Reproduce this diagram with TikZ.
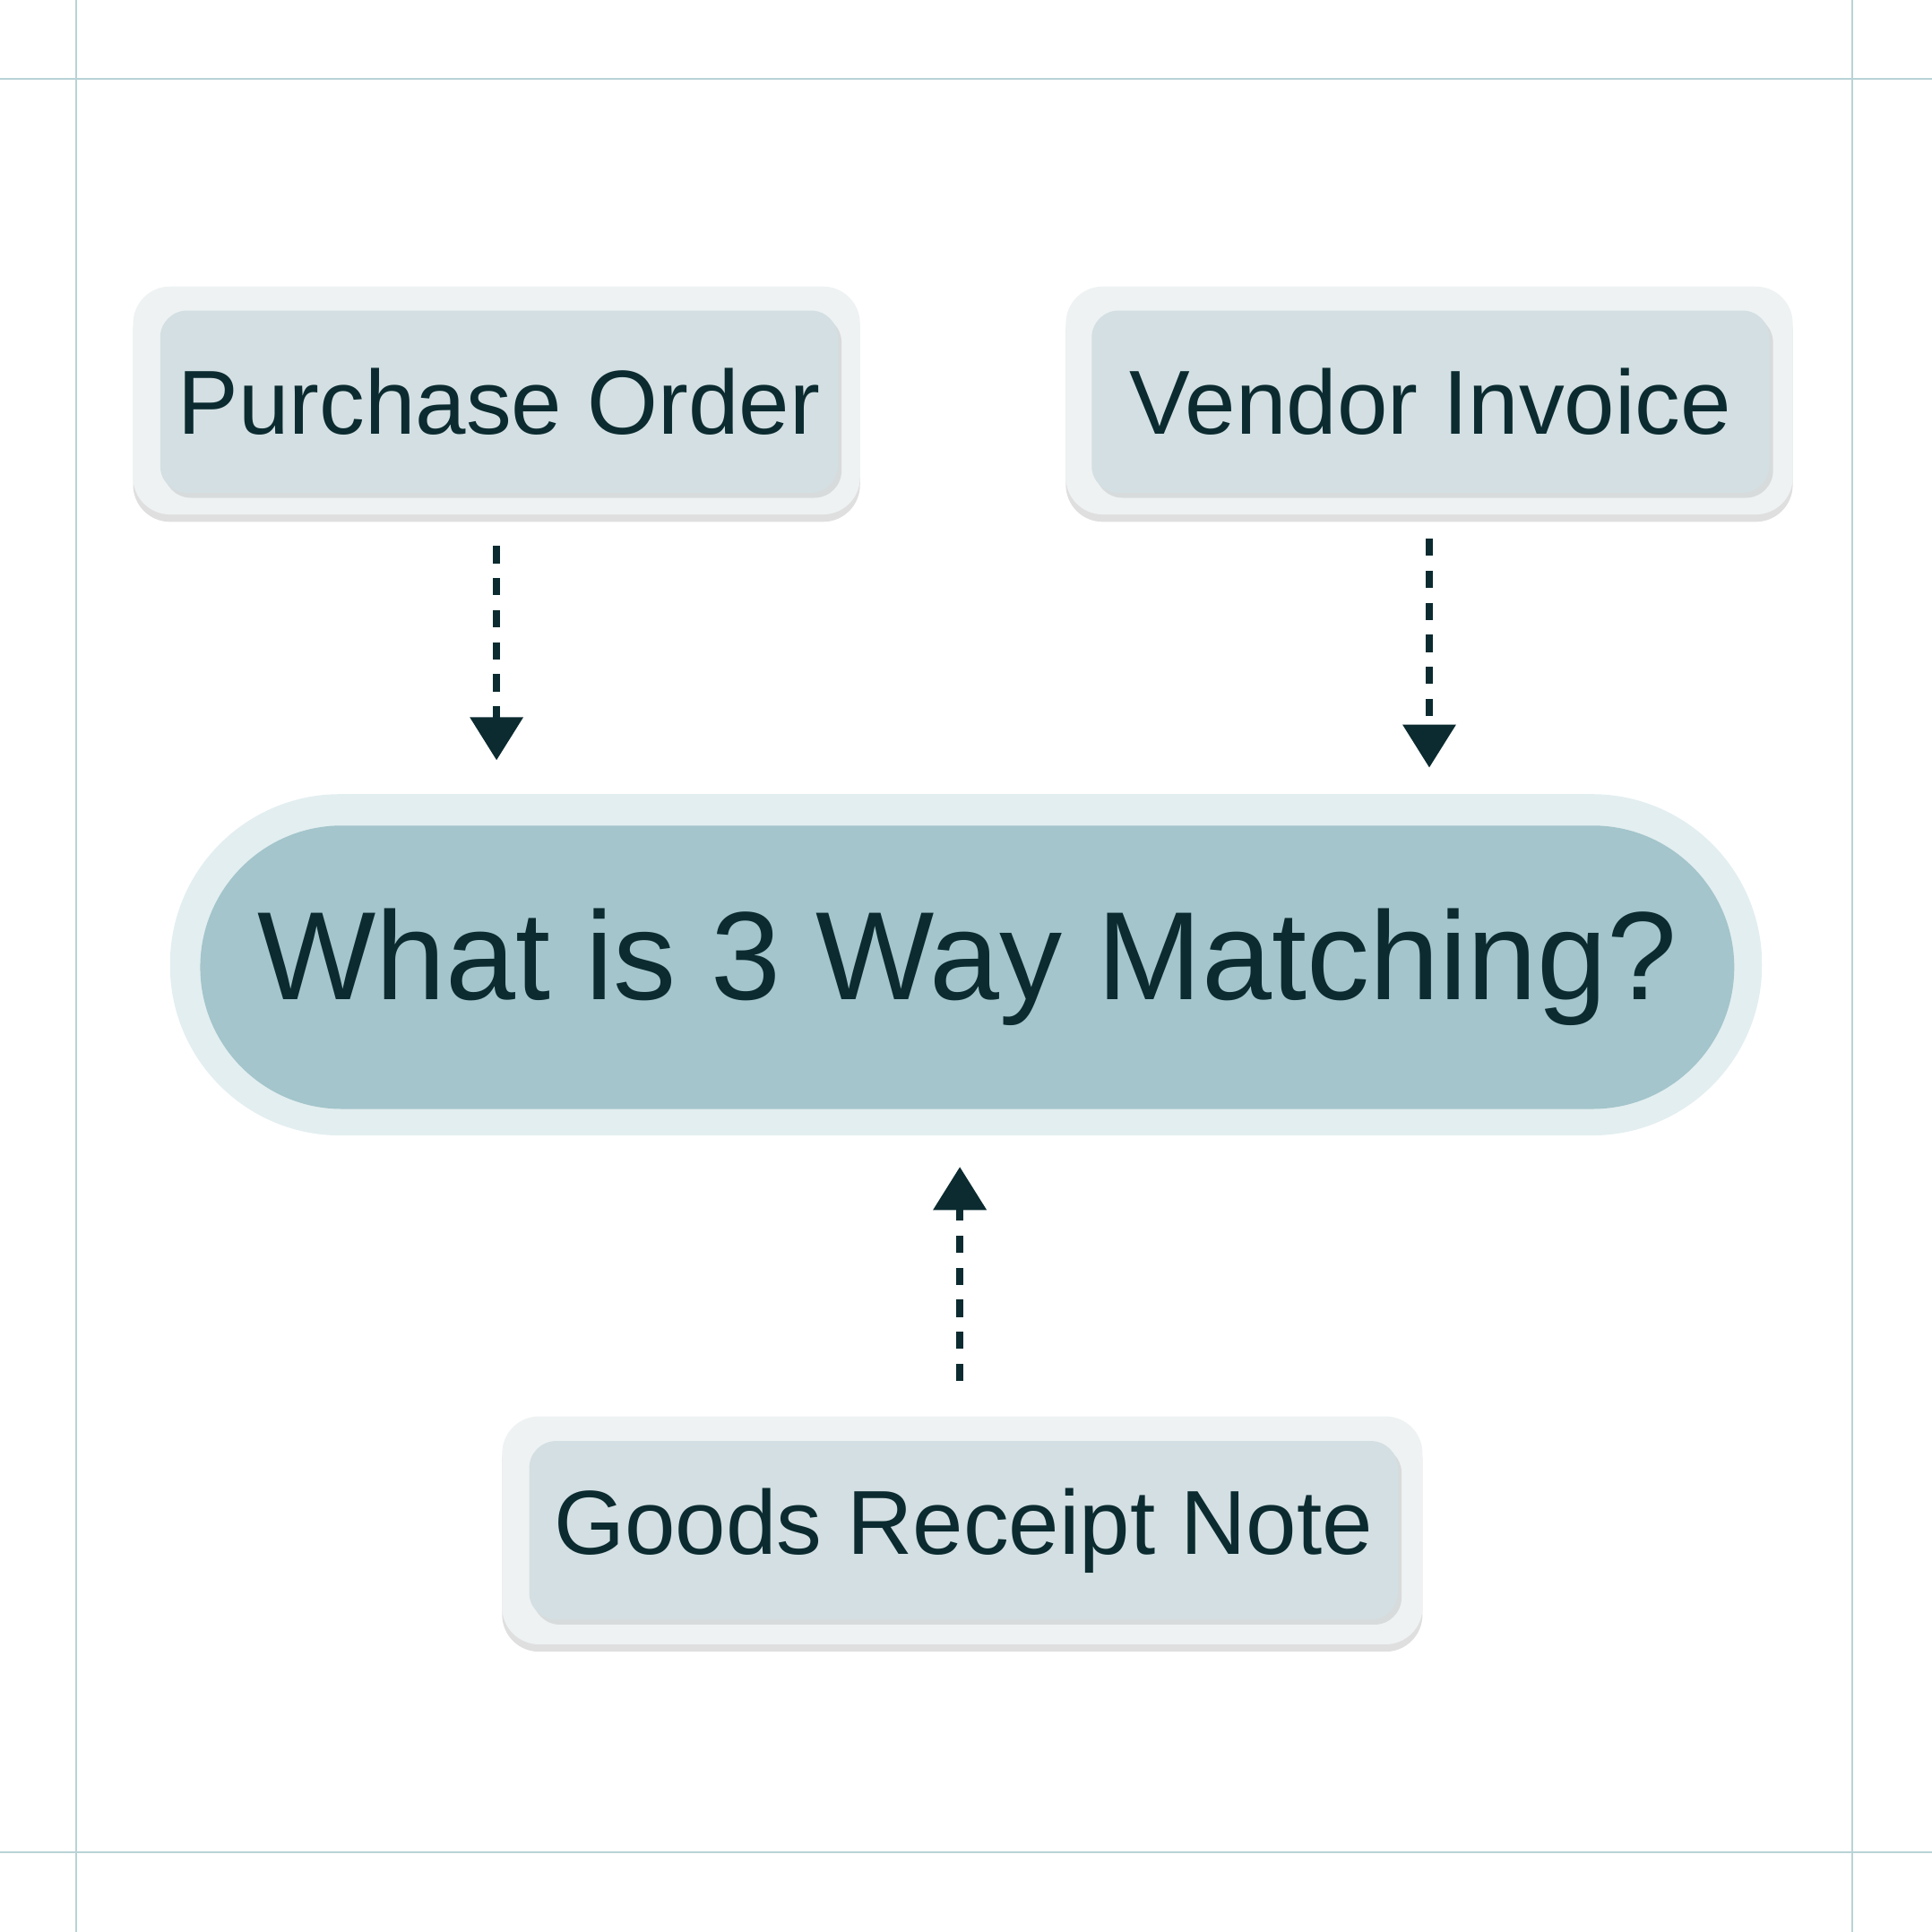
\documentclass[tikz,border=0pt]{standalone}
\usepackage{fontspec}
\setmainfont{Liberation Sans}
\usetikzlibrary{shadows,arrows.meta}
\definecolor{ink}{HTML}{0B2B30}
\definecolor{frame}{HTML}{B9D3D6}
\definecolor{halo}{HTML}{EEF2F3}
\definecolor{card}{HTML}{D3DFE2}
\definecolor{pillhalo}{HTML}{E3EEF0}
\definecolor{pill}{HTML}{A3C5CB}
\tikzset{
  outer/.style={fill=halo, rounded corners=3mm, minimum width=59mm, minimum height=18.5mm,
    drop shadow={opacity=0.25, shadow xshift=0mm, shadow yshift=-0.6mm}},
  inner/.style={fill=card, rounded corners=2.2mm, minimum width=55mm, minimum height=14.8mm,
    text=ink, font=\fontsize{21}{24}\selectfont,
    drop shadow={opacity=0.2, shadow xshift=0.3mm, shadow yshift=-0.4mm}},
  flow/.style={ink, line width=0.6mm, dash pattern=on 1.4mm off 1.2mm,
    -{Triangle[length=3.5mm,width=4.2mm]}},
}
\begin{document}
\begin{tikzpicture}[x=0.1mm,y=-0.1mm]
\useasboundingbox (0,0) rectangle (1568,1568);
% frame
\draw[frame, line width=0.15mm] (0,64) -- (1568,64) (0,1503) -- (1568,1503)
  (62,0) -- (62,1568) (1503,0) -- (1503,1568);
% sources
\node[outer] (po halo) at (403,325) {};
\node[inner] (po) at (405,326) {Purchase Order};
\node[outer] (vi halo) at (1160,325) {};
\node[inner] (vi) at (1161,326) {Vendor Invoice};
\node[outer, minimum width=74.7mm] (grn halo) at (781,1242) {};
\node[inner, minimum width=70.5mm, minimum height=14.5mm] (grn) at (782,1242) {Goods Receipt Note};
% centre
\node[fill=pillhalo, rounded corners=13.8mm, minimum width=129.2mm, minimum height=27.7mm] (q halo) at (784,783) {};
\node[fill=pill, rounded corners=11.5mm, minimum width=124.5mm, minimum height=23mm,
  text=ink, font=\fontsize{29}{34}\selectfont] (q) at (785,785) {What is 3 Way Matching?};
% arrows
\coordinate (po end) at (403,617);
\coordinate (vi end) at (1160,623);
\coordinate (grn end) at (779,947);
\draw[flow] (po halo.south) ++(0,25) -- (po end);
\draw[flow] (vi halo.south) ++(0,19) -- (vi end);
\draw[flow] (grn halo.north) ++(-2,-28) -- (grn end);
\end{tikzpicture}
\end{document}
